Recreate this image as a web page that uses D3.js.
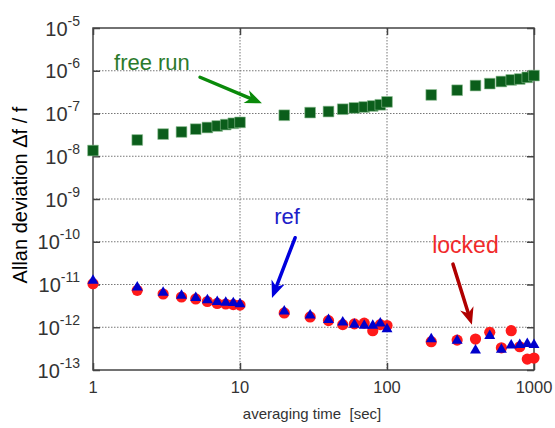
<!DOCTYPE html>
<html>
<head>
<meta charset="utf-8">
<script src="https://cdn.jsdelivr.net/npm/d3@7/dist/d3.min.js"></script>
<style>
  html, body { margin: 0; padding: 0; background: #fff; }
  svg { display: block; font-family: "Liberation Sans", Arial, sans-serif; }
</style>
</head>
<body>
<svg id="chart" width="555" height="428"></svg>
<script>
// Averaging times (s)
const tau = [1, 2, 3, 4, 5, 6, 7, 8, 9, 10,
             20, 30, 40, 50, 60, 70, 80, 90, 100,
             200, 300, 400, 500, 600, 700, 800, 900, 1000];

// Allan deviation, free-running oscillator
const freeRun = [1.36e-8, 2.4e-8, 3.3e-8, 3.7e-8, 4.3e-8, 4.7e-8, 5.1e-8, 5.5e-8, 5.9e-8, 6.2e-8,
                 9.1e-8, 1.05e-7, 1.11e-7, 1.26e-7, 1.35e-7, 1.42e-7, 1.5e-7, 1.6e-7, 1.87e-7,
                 2.72e-7, 3.5e-7, 4.5e-7, 5.0e-7, 5.6e-7, 6.1e-7, 6.4e-7, 7.0e-7, 7.7e-7];

// Allan deviation, reference
const refDev = [1.23e-11, 8.6e-12, 6.5e-12, 5.5e-12, 4.9e-12, 4.3e-12, 3.95e-12, 3.8e-12, 3.7e-12, 3.5e-12,
                2.35e-12, 1.9e-12, 1.5e-12, 1.3e-12, 1.16e-12, 1.1e-12, 1.1e-12, 1.24e-12, 9.1e-13,
                5.3e-13, 4.9e-13, 2.9e-13, 6.3e-13, 3.0e-13, 3.8e-13, 3.9e-13, 4.1e-13, 3.9e-13];

// Allan deviation, locked oscillator
const locked = [1.04e-11, 7.3e-12, 6.0e-12, 5.1e-12, 4.6e-12, 4.0e-12, 3.6e-12, 3.5e-12, 3.4e-12, 3.3e-12,
                2.16e-12, 1.74e-12, 1.43e-12, 1.15e-12, 1.2e-12, 1.25e-12, 8.3e-13, 1.15e-12, 1.1e-12,
                4.6e-13, 5.0e-13, 5.3e-13, 7.6e-13, 3.3e-13, 8.3e-13, 3.5e-13, 1.8e-13, 1.9e-13];

// Axis ticks
const xTicks = [1, 10, 100, 1000];
const xTickLabels = ["1", "10", "100", "1000"];
const yExponents = [-13, -12, -11, -10, -9, -8, -7, -6, -5];

// Annotations: label anchor and arrow (tail -> head) in data coordinates
const notes = [
  { text: "free run", color: "#2b7a2b", arrowColor: "#0a8a0a", size: 22,
    at: [1.39, 1.045e-6], from: [5.35, 7.05e-7], to: [14.1, 1.74e-7] },
  { text: "ref", color: "#2020c8", arrowColor: "#0000dd", size: 22,
    at: [17.1, 2.64e-10], from: [23.7, 1.24e-10], to: [16.5, 4.84e-12] },
  { text: "locked", color: "#f02a2a", arrowColor: "#b00000", size: 23,
    at: [203, 5.53e-11], from: [281, 3.0e-11], to: [378, 1.15e-12] }
];

const svg = d3.select("#chart");
const margin = { left: 93, right: 21, top: 28, bottom: 58 };
const W = 555, H = 428;

const x = d3.scaleLog().domain([1, 1000]).range([margin.left, W - margin.right]);
const y = d3.scaleLog().domain([1e-13, 1e-5]).range([H - margin.bottom, margin.top]);

const [x0, x1] = x.range();
const [y0, y1] = y.range();

// Dotted grid
const grid = svg.append("g");
grid.selectAll("line.h")
  .data(yExponents.filter(e => e > -13 && e < -5))
  .join("line")
  .attr("x1", x0).attr("x2", x1)
  .attr("y1", e => y(Math.pow(10, e))).attr("y2", e => y(Math.pow(10, e)))
  .attr("stroke", "#777").attr("stroke-width", 1).attr("stroke-dasharray", "1.5,1.5");
grid.selectAll("line.v")
  .data(xTicks.slice(1, -1))
  .join("line")
  .attr("x1", d => x(d)).attr("x2", d => x(d))
  .attr("y1", y1).attr("y2", y0)
  .attr("stroke", "#777").attr("stroke-width", 1).attr("stroke-dasharray", "1.5,1.5");

// Axes with inward ticks, no domain path (frame drawn separately)
const yTickVals = yExponents.map(e => Math.pow(10, e));
const axisStyle = g => {
  g.select(".domain").remove();
  g.selectAll(".tick text").remove();
  g.selectAll(".tick line").attr("stroke", "#444").attr("stroke-width", 1.5);
};
svg.append("g").attr("transform", `translate(${x0},0)`)
  .call(d3.axisRight(y).tickValues(yTickVals).tickSize(7)).call(axisStyle);
svg.append("g").attr("transform", `translate(${x1},0)`)
  .call(d3.axisLeft(y).tickValues(yTickVals).tickSize(7)).call(axisStyle);
svg.append("g").attr("transform", `translate(0,${y0})`)
  .call(d3.axisTop(x).tickValues(xTicks).tickSize(7)).call(axisStyle);
svg.append("g").attr("transform", `translate(0,${y1})`)
  .call(d3.axisBottom(x).tickValues(xTicks).tickSize(7)).call(axisStyle);

// Frame
svg.append("rect")
  .attr("x", x0).attr("y", y1).attr("width", x1 - x0).attr("height", y0 - y1)
  .attr("fill", "none").attr("stroke", "#444").attr("stroke-width", 1.5);

// Y tick labels: 10 with superscript exponent
const yl = svg.append("g").attr("fill", "#333");
yExponents.forEach(e => {
  const t = yl.append("text")
    .attr("x", 80).attr("y", y(Math.pow(10, e)) + 7.5)
    .attr("text-anchor", "end")
    .style("font-size", "20px");
  t.append("tspan").text("10");
  t.append("tspan").text(e === 0 ? "0" : "-" + Math.abs(e))
    .attr("dy", -10).style("font-size", "14px");
});

// X tick labels
svg.append("g").selectAll("text")
  .data(xTicks)
  .join("text")
  .attr("x", d => x(d)).attr("y", y0 + 23)
  .attr("text-anchor", "middle")
  .attr("fill", "#333")
  .style("font-size", "16.5px")
  .text((d, i) => xTickLabels[i]);

// Axis titles
svg.append("text")
  .attr("x", 312).attr("y", 419)
  .attr("text-anchor", "middle")
  .attr("fill", "#333")
  .style("font-size", "15px")
  .style("white-space", "pre")
  .text("averaging time  [sec]");

svg.append("text")
  .attr("transform", `translate(27,195) rotate(-90)`)
  .attr("text-anchor", "middle")
  .attr("fill", "#000")
  .style("font-size", "20px")
  .text("Allan deviation \u0394f / f");

// Data series
const pts = (vals) => tau.map((t, i) => ({ t, v: vals[i] }));

svg.append("g").selectAll("path")
  .data(pts(freeRun))
  .join("path")
  .attr("transform", d => `translate(${x(d.t)},${y(d.v)})`)
  .attr("d", d3.symbol(d3.symbolSquare, 115))
  .attr("fill", "#0b5e1b")
  .attr("stroke", "#8fbf94").attr("stroke-width", 0.6);

svg.append("g").selectAll("circle")
  .data(pts(locked))
  .join("circle")
  .attr("cx", d => x(d.t)).attr("cy", d => y(d.v))
  .attr("r", 5.6)
  .attr("fill", "#ff1a1a");

svg.append("g").selectAll("path")
  .data(pts(refDev))
  .join("path")
  .attr("transform", d => `translate(${x(d.t)},${y(d.v)})`)
  .attr("d", d3.symbol(d3.symbolTriangle, 52))
  .attr("fill", "#0000cc");

// Annotations
const ann = svg.append("g");
notes.forEach(n => {
  const ax = x(n.from[0]), ay = y(n.from[1]);
  const bx = x(n.to[0]), by = y(n.to[1]);
  const ang = Math.atan2(by - ay, bx - ax);
  const headLen = 17, headHalf = 7, notch = 5;
  const ux = Math.cos(ang), uy = Math.sin(ang);
  const px = -uy, py = ux;
  const baseX = bx - ux * headLen, baseY = by - uy * headLen;
  const neckX = bx - ux * (headLen - notch), neckY = by - uy * (headLen - notch);
  ann.append("line")
    .attr("x1", ax).attr("y1", ay).attr("x2", neckX).attr("y2", neckY)
    .attr("stroke", n.arrowColor).attr("stroke-width", 3.5).attr("stroke-linecap", "round");
  ann.append("path")
    .attr("d", `M${bx},${by}L${baseX + px * headHalf},${baseY + py * headHalf}` +
               `L${neckX},${neckY}L${baseX - px * headHalf},${baseY - py * headHalf}Z`)
    .attr("fill", n.arrowColor);
  ann.append("text")
    .attr("x", x(n.at[0])).attr("y", y(n.at[1]))
    .attr("fill", n.color)
    .style("font-size", n.size + "px")
    .text(n.text);
});
</script>
</body>
</html>
